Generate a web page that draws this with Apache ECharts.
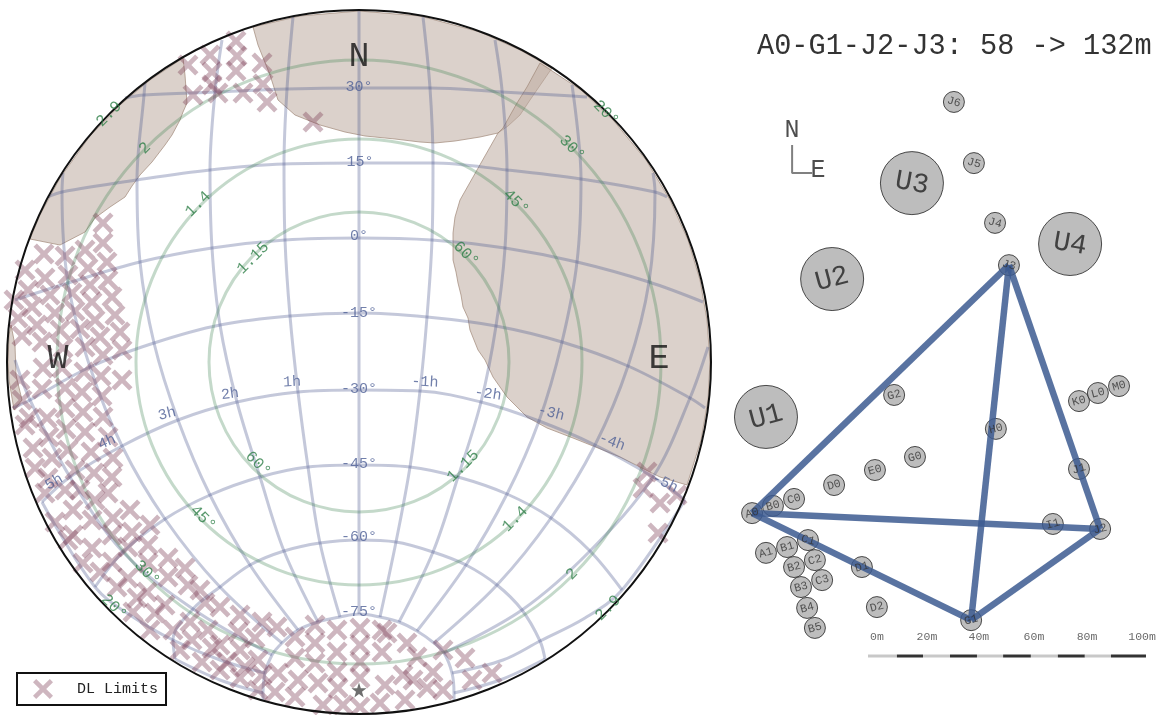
<!DOCTYPE html>
<html><head><meta charset="utf-8">
<style>html,body{margin:0;padding:0;background:#fff}#c{width:1162px;height:715px}</style>
<script src="https://cdn.jsdelivr.net/npm/echarts@6/dist/echarts.min.js"></script>
</head><body><div id="c"></div>
<script>
// ---------- sky map: readings in the sky panel's axis units ----------
const dec30 = [[125,98],[144,95],[215,92],[287,89],[359,88],[430,88],[502,92],[573,96],[587,97]];
const dec15 = [[48,197],[62,192],[137,180],[210,170],[284,164],[359,163],[433,163],[507,170],[581,179],[655,192],[667,197]];
const dec0 = [[15,300],[68,283],[140,262],[212,248],[285,240],[359,238],[432,240],[505,248],[577,262],[649,282],[703,302]];
const decM15 = [[13,408],[30,400],[90,367],[154,343],[220,325],[290,316],[359,313],[427,317],[496,326],[562,342],[628,366],[690,398],[705,408]];
const decM30 = [[42,502],[70,477],[122,446],[178,420],[237,402],[298,392],[359,390],[420,391],[481,402],[539,421],[595,445],[653,477],[685,500]];
const decM45 = [[95,587],[123,552],[165,519],[210,495],[260,477],[308,467],[359,465],[410,467],[458,477],[507,494],[551,518],[590,551],[622,590]];
const decM60 = [[175,659],[173,640],[193,609],[220,587],[250,565],[284,551],[320,543],[359,540],[396,542],[433,552],[466,565],[497,585],[522,610],[540,641],[545,659]];
const decM75 = [[263,700],[263,693],[265,673],[272,655],[282,643],[298,630],[318,622],[340,617],[359,614],[380,617],[399,622],[417,631],[434,643],[444,653],[452,673],[454,693],[454,700]];
const ha0 = [[359,11],[359,88],[359,238],[359,390],[359,540],[359,614]];
const ha1 = [[293,17],[287,89],[284,164],[285,240],[290,316],[298,392],[308,467],[320,543],[340,617]];
const ha2 = [[222,40],[215,92],[210,170],[212,248],[220,325],[237,402],[260,477],[284,551],[318,622]];
const ha3 = [[145,83],[144,95],[137,180],[140,262],[154,343],[178,420],[210,495],[250,565],[298,630]];
const ha4 = [[63,173],[62,192],[68,283],[90,367],[122,446],[165,519],[220,587],[282,643]];
const ha5 = [[15,360],[30,400],[70,477],[123,552],[193,609],[272,655]];
const ha6 = [[42,502],[95,587],[133,617],[173,640],[220,660],[265,673]];
const ha7 = [[175,659],[220,680],[263,693]];
const haM1 = [[423,17],[430,88],[433,163],[432,240],[427,317],[420,391],[410,467],[396,542],[380,617]];
const haM2 = [[495,40],[502,90],[507,170],[505,248],[496,326],[481,402],[458,477],[433,552],[399,622]];
const haM3 = [[572,85],[581,179],[577,262],[562,342],[539,421],[507,494],[466,565],[417,631]];
const haM4 = [[653,173],[655,192],[649,282],[628,366],[595,445],[551,518],[497,585],[434,643]];
const haM5 = [[708,347],[690,398],[653,477],[590,551],[522,610],[444,653]];
const haM6 = [[685,500],[622,590],[585,618],[540,641],[503,660],[452,673]];
const haM7 = [[545,659],[500,680],[454,693]];
const skyZenith = [359,362];
const skyRadius = 352;
const ringRadii = [150,223,302];

const shadeWest = [[30,239],[60,245],[85,232],[95,218],[110,207],[125,197],[132,186],[140,175],[152,162],[165,145],[172,135],[180,120],[183,112],[187,103],[185,75],[183,58],[150,80],[120,105],[90,136],[60,178],[40,215]];
const shadeNorth = [[253,27],[258,45],[270,75],[278,100],[295,115],[320,125],[345,132],[365,136],[395,139],[420,142],[435,143],[455,141],[480,137],[498,133],[508,126],[520,115],[530,100],[552,68],[520,50],[480,32],[420,16],[359,11],[300,16]];
const shadeEast = [[540,63],[527,87],[517,103],[503,128],[498,133],[477,170],[460,200],[455,217],[453,233],[453,260],[456,272],[458,283],[461,295],[463,307],[468,318],[470,330],[478,350],[485,360],[493,377],[507,397],[527,417],[547,428],[573,438],[593,446],[620,457],[640,467],[660,477],[687,485],[701,440],[708,400],[710,362],[707,320],[700,280],[688,240],[670,200],[646,160],[613,120],[581,90]];
const shadeEdge = [[11,325],[15,345],[16,375],[22,400],[14,410],[9,380],[8,362],[9,335]];

const dlTop = [[188,65],[210,55],[212,72],[236,41],[237,56],[236,71],[262,63],[193,95],[218,93],[243,93],[263,84],[267,102],[212,85],[313,122]];
const dlWestUpper = [[103,223],[103,243],[107,262],[108,280],[112,297],[115,315],[120,332],[122,350],[85,250],[88,268],[90,285],[92,302],[95,320],[100,337],[103,355],[65,256],[68,275],[72,293],[75,311],[80,329],[85,347],[44,254],[45,278],[50,295],[55,313],[60,330],[63,348],[25,270],[28,290],[32,307],[37,325],[42,342],[14,300],[18,318],[22,336]];
const dlWestLower = [[29,418],[33,448],[49,437],[52,458],[47,418],[65,408],[66,429],[68,450],[75,470],[82,392],[83,412],[85,432],[91,452],[101,376],[102,396],[103,417],[108,437],[113,458],[122,380],[42,389],[65,388],[43,368],[62,368],[84,372],[20,380],[22,400],[25,425],[35,468],[48,478],[65,490],[94,473],[112,477],[45,493],[80,490]];
const dlBand = [[55,522],[73,535],[92,548],[112,562],[128,578],[147,592],[165,605],[73,510],[92,520],[112,535],[128,547],[148,563],[168,577],[95,500],[113,518],[132,532],[148,545],[168,558],[108,493],[130,510],[150,525],[68,540],[83,563],[100,572],[117,587],[137,598],[155,613]];
const dlFoot = [[188,585],[205,603],[220,607],[238,632],[255,638],[190,622],[208,630],[220,645],[240,650],[258,660],[173,630],[192,640],[212,648],[227,662],[245,667],[262,675],[180,650],[202,662],[220,670],[240,678],[258,690],[133,612],[150,630],[185,568],[200,590],[240,615],[262,622]];
const dlPoleWest = [[360,628],[360,645],[360,662],[360,678],[360,707],[382,630],[382,652],[385,685],[380,703],[337,630],[337,652],[337,672],[315,625],[315,643],[315,663],[295,637],[295,658],[277,627],[278,673],[298,680],[318,683],[338,688],[275,692],[295,697],[323,705],[343,705]];
const dlPoleEast = [[407,643],[443,650],[465,658],[492,673],[472,680],[387,633],[417,657],[433,672],[403,675],[413,680],[427,688],[443,690],[405,700]];
const dlEast = [[647,472],[643,488],[660,503],[677,495],[658,533]];
const polePoint = [[359,690]];

const decLabels = ['30°','15°','0°','-15°','-30°','-45°','-60°','-75°'];
const decLabelPos = [[359,87],[360,162],[359,236],[359,313],[359,389],[359,464],[359,537],[359,612]];
const hourLabels = ['1h','2h','3h','4h','5h','-1h','-2h','-3h','-4h','-5h'];
const hourLabelPos = [[292,382],[230,394],[167,414],[107,442],[54,482],[425,382],[488,394],[551,413],[612,442],[665,483]];
const hourLabelTilt = [3,8,14,24,30,-3,-8,-14,-20,-26];
const altLabels = ['60°','45°','30°','20°','60°','45°','30°','20°'];
const altLabelPos = [[466,254],[516,202],[572,148],[606,113],[258,464],[203,518],[147,573],[114,607]];
const airmassLabels = ['1.15','1.4','2','2.9','1.15','1.4','2','2.9'];
const airmassLabelPos = [[253,258],[198,204],[145,148],[109,114],[463,466],[515,519],[572,574],[608,608]];
const cardinalLabels = ['N','E','W'];
const cardinalPos = [[359,57],[659,359],[58,359]];

// ---------- array layout: metres ----------
const bigStations = ['U1','U2','U3','U4'];
const bigX = [-36.7,-12.9,15.8,72.7];
const bigY = [86.0,135.6,170.1,148.2];
const bigTilt = [15,15,-10,-10];
const stationNames = ['J6','J5','J4','J3','G2','H0','K0','L0','M0','J1','G0','E0','D0','C0','B0','A0','A1','B1','C1','B2','C2','B3','C3','B4','B5','D1','D2','G1','I1','J2'];
const stationX = [30.9,38.1,45.7,50.7,9.4,46.0,75.9,82.7,90.3,75.9,16.9,2.5,-12.2,-26.6,-34.2,-41.7,-36.7,-29.1,-21.6,-26.6,-19.1,-24.1,-16.5,-21.9,-19.1,-2.2,3.2,37.1,66.5,83.5];
const stationY = [199.3,177.3,155.8,140.6,93.9,81.7,91.7,94.6,97.1,67.3,71.6,66.9,61.5,56.5,54.0,51.4,37.1,39.2,41.7,32.0,34.5,24.8,27.3,17.3,10.1,32.0,17.6,12.9,47.5,45.7];
const baselines = [['A0','G1'],['A0','J2'],['A0','J3'],['G1','J2'],['G1','J3'],['J2','J3']];
const titleText = 'A0-G1-J2-J3: 58 -> 132m';
const scaleStops = [0,10.4,19.8,29.5,39.2,48.6,58.6,68.3,78,87.4,100];
const scaleLabels = ['0m','20m','40m','60m','80m','100m'];
const scaleLabelX = [3.2,21.2,39.9,59.7,78.8,98.6];
const scaleLabelY = 6.8;
const compassArms = [[-27.3,183.8],[-27.3,173.7],[-20.1,173.7]];
const compassLabels = ['N','E'];
const compassPos = [[-27.3,189.2],[-18,174.8]];

const FONT = '"Liberation Mono"';
const X_PATH = 'path://M1.6,0L5,3.4L8.4,0L10,1.6L6.6,5L10,8.4L8.4,10L5,6.6L1.6,10L0,8.4L3.4,5L0,1.6Z';
const GRATICULE = 'rgba(70,85,140,0.32)';
const series = [];

function polygon(points){
  series.push({type:'custom',xAxisIndex:0,yAxisIndex:0,silent:true,clip:false,z:1,data:points,
    renderItem(p,api){
      if(p.dataIndex!==0) return null;
      return {type:'polygon',shape:{points:points.map(q=>api.coord(q))},
        style:{fill:'rgba(190,172,160,0.55)',stroke:'rgba(160,135,120,0.7)',lineWidth:1}};
    }});
}
[shadeWest,shadeNorth,shadeEast,shadeEdge].forEach(polygon);

[dec30,dec15,dec0,decM15,decM30,decM45,decM60,decM75,ha0,ha1,ha2,ha3,ha4,ha5,ha6,ha7,haM1,haM2,haM3,haM4,haM5,haM6,haM7].forEach(l=>{
  series.push({type:'line',xAxisIndex:0,yAxisIndex:0,data:l,smooth:0.35,showSymbol:false,silent:true,z:2,
    lineStyle:{color:GRATICULE,width:3}});
});

series.push({type:'custom',xAxisIndex:0,yAxisIndex:0,silent:true,clip:false,z:3,
  data:ringRadii.map(r=>[skyZenith[0],skyZenith[1],r]),
  renderItem(p,api){
    const c=api.coord([api.value(0),api.value(1)]);
    return {type:'circle',shape:{cx:c[0],cy:c[1],r:api.size([api.value(2),0])[0]},
      style:{fill:'none',stroke:'rgba(60,130,80,0.3)',lineWidth:3}};
  }});

series.push({type:'scatter',name:'DL Limits',xAxisIndex:0,yAxisIndex:0,silent:true,z:4,
  symbol:X_PATH,symbolSize:21,
  itemStyle:{color:'rgba(125,60,85,0.47)'},
  data:[].concat(dlTop,dlWestUpper,dlWestLower,dlBand,dlFoot,dlPoleWest,dlPoleEast,dlEast)});

series.push({type:'custom',xAxisIndex:0,yAxisIndex:0,silent:true,clip:false,z:5,
  data:[[skyZenith[0],skyZenith[1],skyRadius]],
  renderItem(p,api){
    const c=api.coord([api.value(0),api.value(1)]);
    return {type:'circle',shape:{cx:c[0],cy:c[1],r:api.size([api.value(2),0])[0]},
      style:{fill:'none',stroke:'#111',lineWidth:2}};
  }});

series.push({type:'scatter',xAxisIndex:0,yAxisIndex:0,silent:true,z:5,symbol:'path://M5,0L6.2,3.6L10,3.6L7,5.9L8.1,9.5L5,7.3L1.9,9.5L3,5.9L0,3.6L3.8,3.6Z',
  symbolSize:15,itemStyle:{color:'#4a4a4a'},data:polePoint});

function textSeries(xi,names,pos,size,color,tilt,z){
  series.push({type:'scatter',xAxisIndex:xi,yAxisIndex:xi,silent:true,z:z||6,symbolSize:0,
    data:names.map((n,i)=>({value:pos[i],
      label:{show:true,position:'inside',formatter:n,rotate:Array.isArray(tilt)?tilt[i]:tilt,
        fontFamily:FONT,fontSize:size,color:color}}))});
}
textSeries(0,decLabels,decLabelPos,15,'#4f6096',0);
textSeries(0,hourLabels,hourLabelPos,15,'#4f6096',hourLabelTilt);
textSeries(0,altLabels,altLabelPos,16,'#2f8048',-45);
textSeries(0,airmassLabels,airmassLabelPos,16,'#2f8048',45);
textSeries(0,cardinalLabels,cardinalPos,35,'#111',0);

// array panel
const coords = {};
stationNames.forEach((n,i)=>coords[n]=[stationX[i],stationY[i]]);
const stationStyle = {color:'#adadad',borderColor:'#222',borderWidth:1};
series.push({type:'scatter',xAxisIndex:1,yAxisIndex:1,silent:true,z:2,symbol:'circle',symbolSize:63,itemStyle:stationStyle,
  data:bigStations.map((n,i)=>({value:[bigX[i],bigY[i]],
    label:{show:true,position:'inside',formatter:n,rotate:bigTilt[i],fontFamily:FONT,fontSize:28,color:'#222'}}))});
series.push({type:'scatter',xAxisIndex:1,yAxisIndex:1,silent:true,z:2,symbol:'circle',symbolSize:21,itemStyle:stationStyle,
  data:stationNames.map((n,i)=>({value:[stationX[i],stationY[i]]}))});
baselines.forEach(b=>{
  series.push({type:'line',xAxisIndex:1,yAxisIndex:1,silent:true,z:3,showSymbol:false,
    data:[coords[b[0]],coords[b[1]]],lineStyle:{color:'rgba(60,90,145,0.85)',width:6.5}});
});
textSeries(1,stationNames,stationNames.map(n=>coords[n]),11.5,'#333',
  stationNames.map(n=>/^J[3-6]$/.test(n)?-15:(n==='C1'?-15:15)),4);

for(let i=0;i<scaleStops.length-1;i++){
  series.push({type:'line',xAxisIndex:1,yAxisIndex:1,silent:true,z:2,showSymbol:false,
    data:[[scaleStops[i],0],[scaleStops[i+1],0]],
    lineStyle:{color:i%2?'#333':'#c8c8c8',width:3}});
}
textSeries(1,scaleLabels,scaleLabelX.map(x=>[x,scaleLabelY]),11.5,'#444',0);
series.push({type:'line',xAxisIndex:1,yAxisIndex:1,silent:true,z:2,showSymbol:false,data:compassArms,
  lineStyle:{color:'#808080',width:2}});
textSeries(1,compassLabels,compassPos,25,'#222',0);

const chart = echarts.init(document.getElementById('c'),null,{renderer:'canvas'});
chart.setOption({
  animation:false,
  backgroundColor:'#fff',
  tooltip:{show:false},
  title:{text:titleText,left:757,top:32,padding:0,textStyle:{fontFamily:FONT,fontSize:28.6,fontWeight:'normal',color:'#333'}},
  legend:{left:17,top:673,orient:'vertical',data:[{name:'DL Limits',icon:X_PATH}],
    itemWidth:20,itemHeight:20,padding:[6,8,6,16],borderColor:'#111',borderWidth:2,
    selectedMode:false,textStyle:{fontFamily:FONT,fontSize:15,color:'#222',padding:[0,0,0,19]}},
  grid:[{left:0,top:0,width:720,height:715},{left:720,top:0,width:442,height:715}],
  xAxis:[{type:'value',gridIndex:0,min:0,max:720,show:false},
         {type:'value',gridIndex:1,min:-53.24,max:105.76,show:false}],
  yAxis:[{type:'value',gridIndex:0,min:0,max:715,inverse:true,show:false},
         {type:'value',gridIndex:1,min:-21.22,max:235.97,show:false}],
  series
});
</script></body></html>
